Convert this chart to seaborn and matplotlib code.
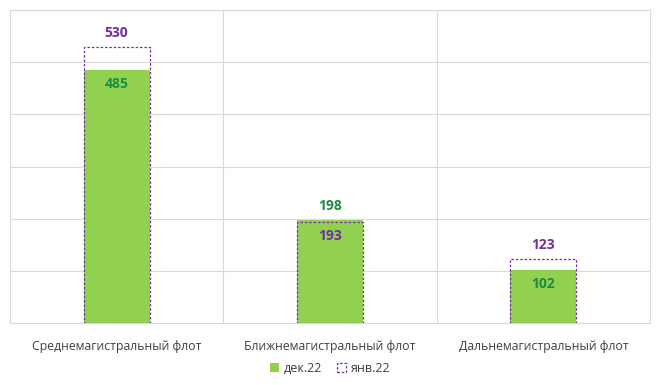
import matplotlib
matplotlib.use("Agg")
import matplotlib.pyplot as plt
import seaborn as sns
import pandas as pd
from matplotlib.patches import Patch

categories = ["Среднемагистральный флот", "Ближнемагистральный флот", "Дальнемагистральный флот"]
dec22 = [485, 198, 102]
jan22 = [530, 193, 123]
series_names = ["дек.22", "янв.22"]

sns.set_theme(style="white")
plt.rcParams['font.family'] = ['Open Sans', 'DejaVu Sans']

GREEN = "#92D050"
GREEN_TXT = "#1E8C45"
PURPLE = "#7030A0"
GRID = "#D9D9D9"

fig = plt.figure(figsize=(6.6, 3.85), dpi=100)
ax = fig.add_axes([0.015, 0.161, 0.97, 0.813])

df_dec = pd.DataFrame({"cat": categories, "val": dec22})
df_jan = pd.DataFrame({"cat": categories, "val": jan22})

sns.barplot(data=df_dec, x="cat", y="val", color=GREEN, width=0.31, ax=ax,
            edgecolor="none", saturation=1, zorder=2)
sns.barplot(data=df_jan, x="cat", y="val", width=0.31, ax=ax,
            facecolor="none", edgecolor=PURPLE, linestyle=(0, (2, 1.5)),
            linewidth=0.9, saturation=1, zorder=3)

ax.set_ylim(0, 600)
ax.set_xlim(-0.5, 2.5)
ax.set_yticks(range(0, 601, 100))
ax.yaxis.grid(True, color=GRID, linewidth=0.8, zorder=0)
ax.set_axisbelow(True)
for xv in [0.5, 1.5]:
    ax.axvline(xv, color=GRID, linewidth=0.8, zorder=0)
ax.tick_params(axis="y", left=False, labelleft=False)
ax.tick_params(axis="x", bottom=False, pad=6, labelsize=8.8, labelcolor="#404040")
ax.set_xlabel("")
ax.set_ylabel("")
for s in ax.spines.values():
    s.set_color(GRID)
    s.set_linewidth(0.8)

for i, (d, j) in enumerate(zip(dec22, jan22)):
    if j >= d:
        ax.annotate(str(j), (i, j), xytext=(0, 10), textcoords="offset points",
                    ha="center", va="center", color=PURPLE, fontsize=10, fontweight="bold")
        ax.annotate(str(d), (i, d), xytext=(0, -10), textcoords="offset points",
                    ha="center", va="center", color=GREEN_TXT, fontsize=10, fontweight="bold")
    else:
        ax.annotate(str(d), (i, d), xytext=(0, 10), textcoords="offset points",
                    ha="center", va="center", color=GREEN_TXT, fontsize=10, fontweight="bold")
        ax.annotate(str(j), (i, j), xytext=(0, -10), textcoords="offset points",
                    ha="center", va="center", color=PURPLE, fontsize=10, fontweight="bold")

handles = [Patch(facecolor=GREEN, edgecolor="none", label=series_names[0]),
           Patch(facecolor="none", edgecolor=PURPLE, linestyle=(0, (2, 1.5)),
                 linewidth=0.9, label=series_names[1])]
fig.legend(handles=handles, loc="center", bbox_to_anchor=(0.5, 0.044), ncol=2,
           frameon=False, fontsize=9, handlelength=0.7, handleheight=0.7,
           handletextpad=0.4, columnspacing=1.2, labelcolor="#404040")

fig.savefig("out.png", dpi=100, facecolor="white")
